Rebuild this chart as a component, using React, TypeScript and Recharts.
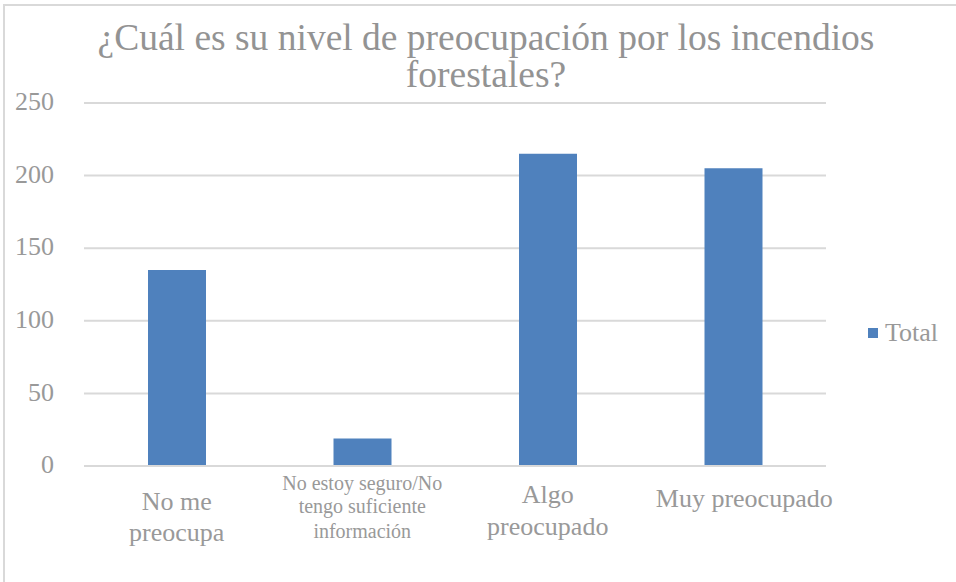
import React from 'react';
import { BarChart, Bar, XAxis, YAxis, CartesianGrid, Legend } from 'recharts';

const titleLines = ['¿Cuál es su nivel de preocupación por los incendios', 'forestales?'];
const categories = [
  'No me preocupa',
  'No estoy seguro/No tengo suficiente información',
  'Algo preocupado',
  'Muy preocupado',
];
const tickLabelLines = [
  ['No me', 'preocupa'],
  ['No estoy seguro/No', 'tengo suficiente', 'información'],
  ['Algo', 'preocupado'],
  ['Muy preocupado'],
];
const totals = [135, 19, 215, 205];
const yTicks = [0, 50, 100, 150, 200, 250];
const seriesName = 'Total';

const data = categories.map((c, i) => ({ name: c, Total: totals[i] }));

const FONT = '"Liberation Serif", "Times New Roman", serif';
const GRAY = '#999999';
const BLUE = '#4f81bd';

// layout of each category label: font size, baselines below axis, x offset
const tickLayout = [
  { size: 26, base: [44, 75], dx: 0 },
  { size: 20, base: [24, 47, 72], dx: 0 },
  { size: 26, base: [37, 69], dx: 0 },
  { size: 26, base: [41], dx: 11 },
];

const CatTick = (props: any) => {
  const { x, y, index } = props;
  const lines = tickLabelLines[index] || [];
  const lay = tickLayout[index];
  const y0 = y - 8;
  return (
    <text textAnchor="middle" fill={GRAY} fontFamily={FONT} fontSize={lay.size}>
      {lines.map((l, i) => (
        <tspan key={i} x={x + lay.dx} y={y0 + lay.base[i]}>
          {l}
        </tspan>
      ))}
    </text>
  );
};

const LegendContent = () => (
  <div style={{ display: 'flex', alignItems: 'center', fontFamily: FONT, fontSize: 26, color: GRAY }}>
    <div style={{ width: 10, height: 10, background: BLUE, marginRight: 7 }} />
    <span>{seriesName}</span>
  </div>
);

export default function App() {
  return (
    <div style={{ position: 'absolute', left: 0, top: 0, width: 956, height: 582, background: '#fff', overflow: 'hidden' }}>
      <div
        style={{
          position: 'absolute',
          left: 3,
          top: 4,
          width: 980,
          height: 600,
          border: '2px solid #d9d9d9',
          boxSizing: 'border-box',
        }}
      />
      <BarChart
        width={956}
        height={582}
        data={data}
        margin={{ top: 103, right: 130, bottom: 0, left: 24 }}
        style={{ position: 'absolute', left: 0, top: 0 }}
      >
        <CartesianGrid vertical={false} stroke="#d9d9d9" strokeWidth={2} />
        <XAxis
          dataKey="name"
          height={116}
          axisLine={{ stroke: '#d9d9d9', strokeWidth: 2 }}
          tickLine={false}
          interval={0}
          tick={<CatTick />}
        />
        <YAxis
          width={60}
          domain={[0, 250]}
          ticks={yTicks}
          axisLine={false}
          tickLine={false}
          tickMargin={24}
          dy={-2}
          tick={{ fill: GRAY, fontFamily: FONT, fontSize: 26 }}
        />
        <Legend
          layout="horizontal"
          verticalAlign="middle"
          align="center"
          content={<LegendContent />}
          wrapperStyle={{ position: 'absolute', left: 868, top: 318, width: 90 }}
        />
        <Bar dataKey="Total" name={seriesName} fill={BLUE} barSize={58} isAnimationActive={false} />
      </BarChart>
      <div
        style={{
          position: 'absolute',
          left: 8,
          top: 19,
          width: 956,
          textAlign: 'center',
          fontFamily: FONT,
          fontSize: 37.5,
          lineHeight: '37px',
          color: '#939393',
          whiteSpace: 'nowrap',
        }}
      >
        {titleLines[0]}
        <br />
        {titleLines[1]}
      </div>
    </div>
  );
}
